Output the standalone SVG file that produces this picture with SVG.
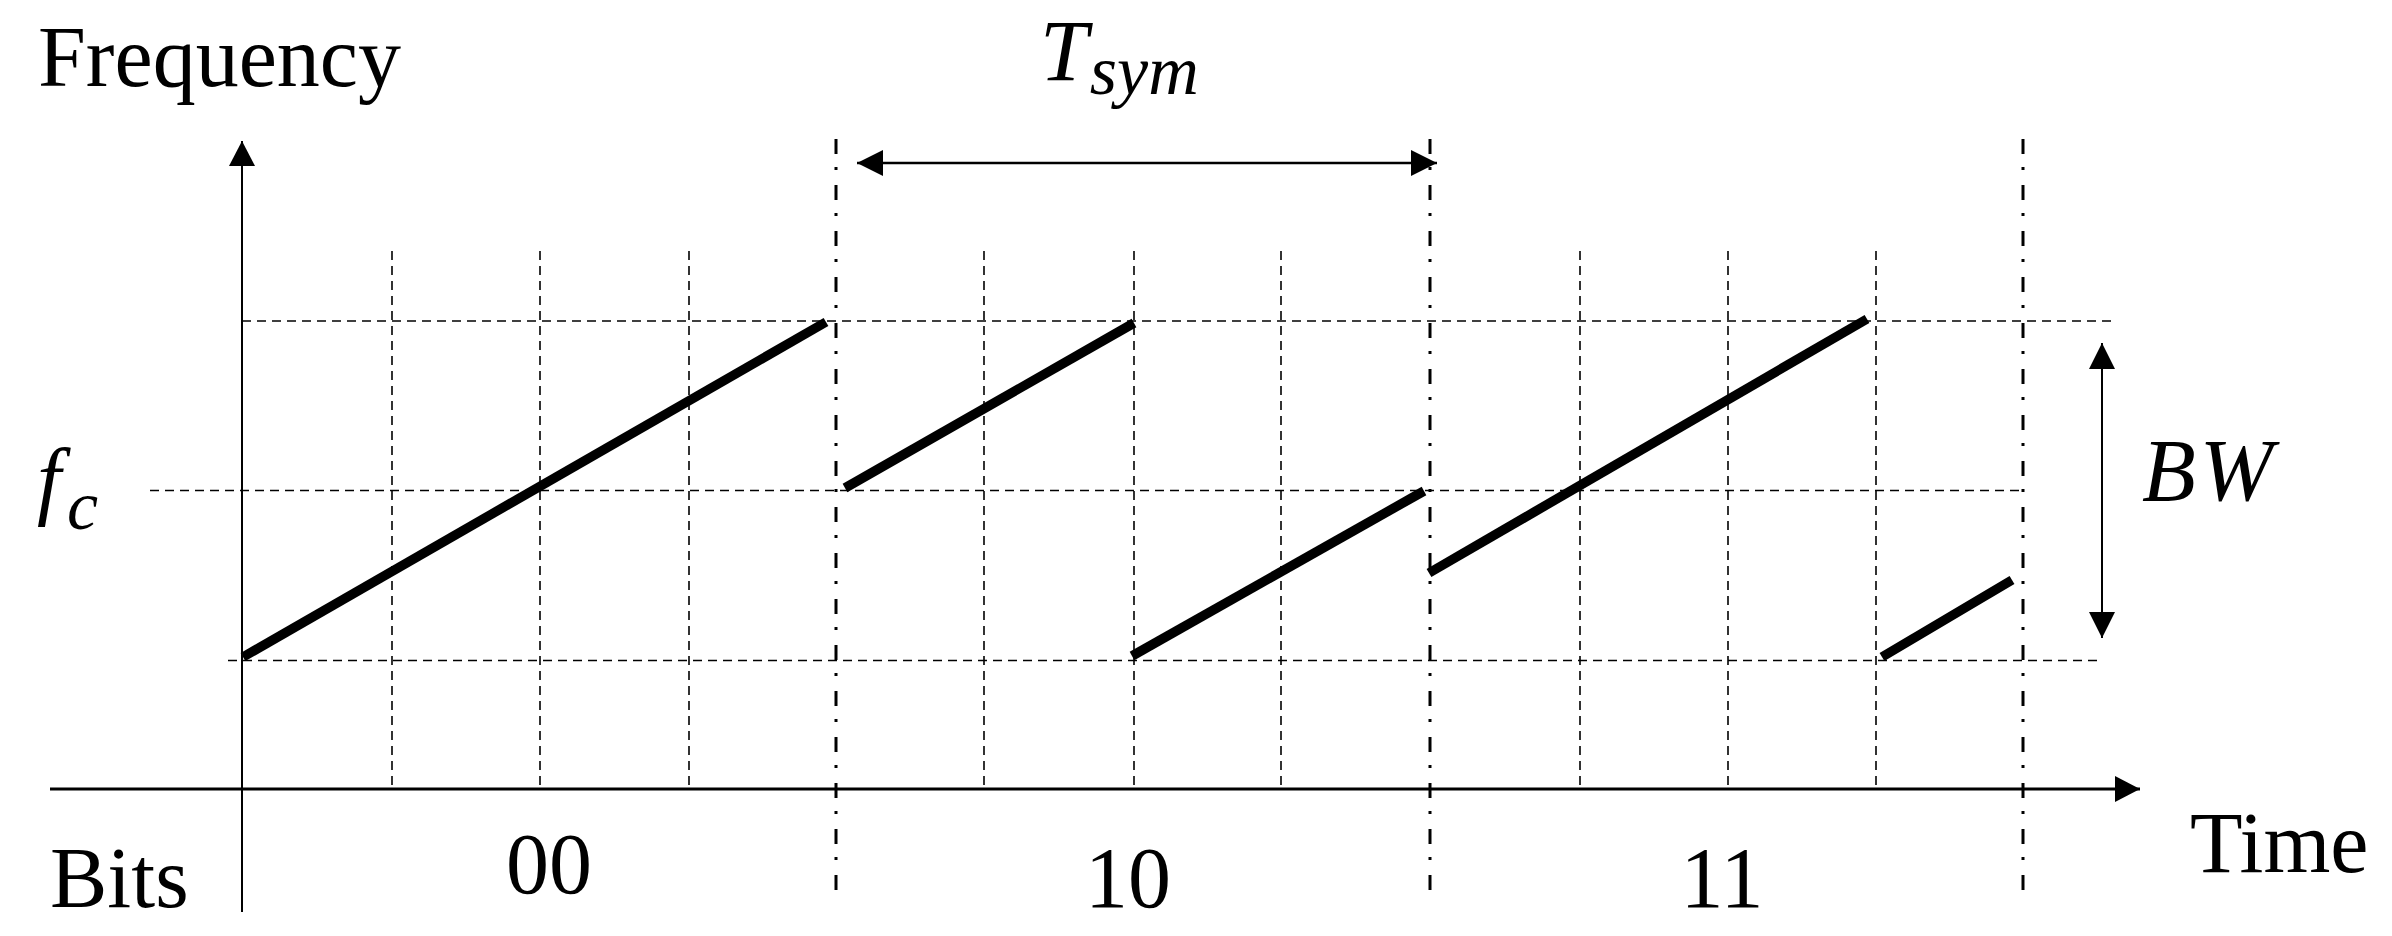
<svg xmlns="http://www.w3.org/2000/svg" width="2392" height="936" viewBox="0 0 2392 936">
<style>
.grid{stroke:#000;stroke-width:1.6;stroke-dasharray:9 6;fill:none}
.dd{stroke:#000;stroke-width:3;stroke-dasharray:15 13 3 15;fill:none}
.axis{stroke:#000;fill:none}
.chirp{stroke:#000;stroke-width:9.5;stroke-linecap:butt;fill:none}
.t{font-family:"Liberation Serif","Times New Roman",serif;font-size:86px;fill:#000}
.m{font-family:"Liberation Serif","Times New Roman",serif;font-style:italic;fill:#000}
</style>
<defs>
<marker id="ah" viewBox="0 0 25 26" refX="25" refY="13" markerWidth="25" markerHeight="26" markerUnits="userSpaceOnUse" orient="auto-start-reverse">
<path d="M0,0 L25,13 L0,26 Z" fill="#000"/>
</marker>
<marker id="ah2" viewBox="0 0 26 26" refX="26" refY="13" markerWidth="26" markerHeight="26" markerUnits="userSpaceOnUse" orient="auto-start-reverse">
<path d="M0,0 L26,13 L0,26 Z" fill="#000"/>
</marker>
</defs>
<rect width="2392" height="936" fill="#fff"/>
<g id="grid">
<line class="grid" x1="242" y1="321" x2="2112" y2="321"/>
<line class="grid" x1="150" y1="490.5" x2="2022" y2="490.5"/>
<line class="grid" x1="228" y1="660.5" x2="2099" y2="660.5"/>
<line class="grid" x1="392" y1="251" x2="392" y2="789"/>
<line class="grid" x1="540" y1="251" x2="540" y2="789"/>
<line class="grid" x1="689" y1="251" x2="689" y2="789"/>
<line class="grid" x1="984" y1="251" x2="984" y2="789"/>
<line class="grid" x1="1134" y1="251" x2="1134" y2="789"/>
<line class="grid" x1="1281" y1="251" x2="1281" y2="789"/>
<line class="grid" x1="1580" y1="251" x2="1580" y2="789"/>
<line class="grid" x1="1728" y1="251" x2="1728" y2="789"/>
<line class="grid" x1="1876" y1="251" x2="1876" y2="789"/>
</g>
<g id="symbol-boundaries">
<line class="dd" x1="836" y1="139" x2="836" y2="898"/>
<line class="dd" x1="1430" y1="139" x2="1430" y2="898"/>
<line class="dd" x1="2023" y1="139" x2="2023" y2="898"/>
</g>
<g id="axes">
<line class="axis" stroke-width="2" x1="242" y1="912" x2="242" y2="141" marker-end="url(#ah)"/>
<line class="axis" stroke-width="3" x1="50" y1="789" x2="2140" y2="789" marker-end="url(#ah)"/>
</g>
<g id="chirps">
<line class="chirp" x1="243" y1="657" x2="826" y2="322"/>
<line class="chirp" x1="845" y1="488" x2="1134" y2="323"/>
<line class="chirp" x1="1132" y1="656" x2="1424" y2="491"/>
<line class="chirp" x1="1429" y1="573" x2="1867" y2="319"/>
<line class="chirp" x1="1882" y1="657" x2="2012" y2="580"/>
</g>
<g id="connectors">
<line class="axis" stroke-width="2.5" x1="857" y1="163" x2="1437" y2="163" marker-start="url(#ah2)" marker-end="url(#ah2)"/>
<line class="axis" stroke-width="2" x1="2102" y1="343" x2="2102" y2="638" marker-start="url(#ah2)" marker-end="url(#ah2)"/>
</g>
<g id="labels">
<text class="t" x="38" y="86">Frequency</text>
<text class="t" x="50" y="907">Bits</text>
<text class="t" x="549" y="893" text-anchor="middle">00</text>
<text class="t" x="1128" y="907" text-anchor="middle">10</text>
<text class="t" x="1722" y="907" text-anchor="middle">11</text>
<text class="t" x="2190" y="872">Time</text>
<text class="m" x="1040" y="80" font-size="86">T<tspan font-size="70" dx="2" dy="14">sym</tspan></text>
<text class="m" x="37" y="508" font-size="86">f<tspan font-size="70" dx="6" dy="21">c</tspan></text>
<text class="m" x="2142" y="500" font-size="88" letter-spacing="4">BW</text>
</g>
</svg>
